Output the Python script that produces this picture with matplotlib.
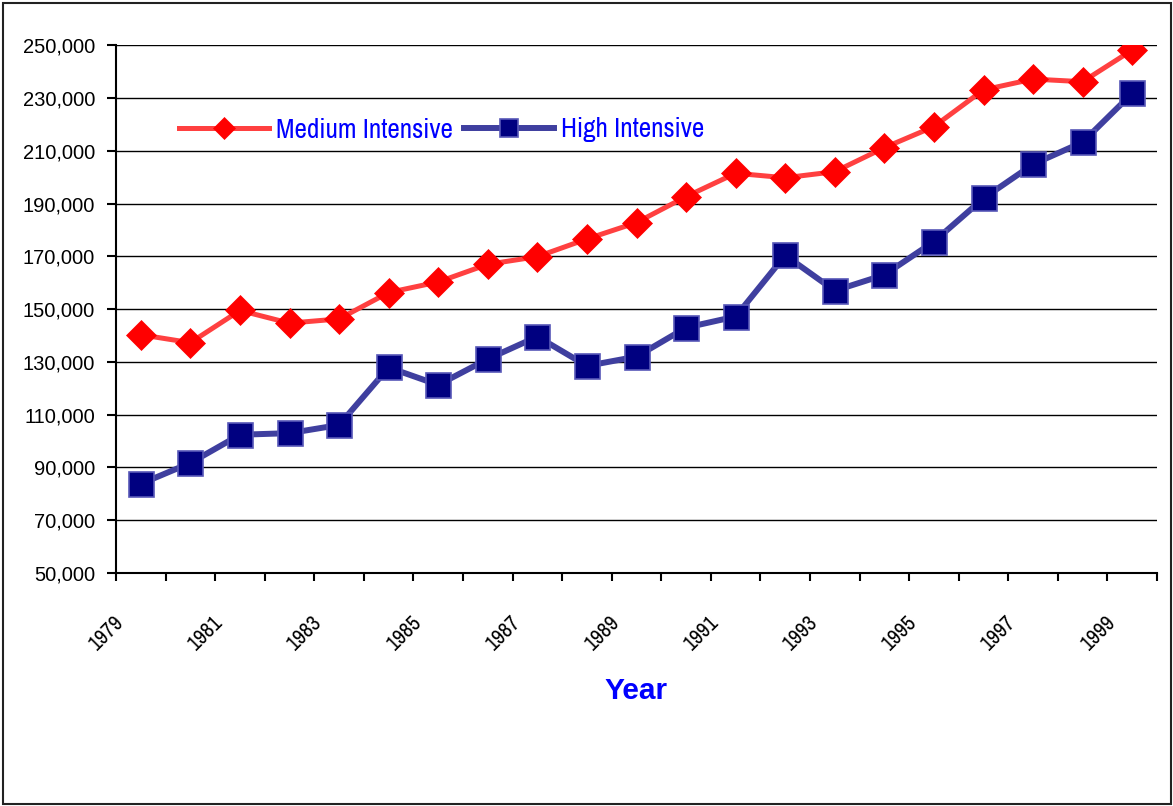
import matplotlib
matplotlib.use("Agg")
import matplotlib.pyplot as plt
import matplotlib.transforms as mtransforms
from matplotlib import font_manager as fm
from matplotlib.patches import Rectangle
import numpy as np

years = [str(y) for y in range(1979, 2000)]
medium_intensive = [140300, 137300, 149500, 144700, 146300, 156300, 160300, 167000, 169900, 176600,
                    182800, 192650, 201500, 199800, 202100, 211200, 219200, 233100, 237200, 236200, 248200]
high_intensive = [83800, 91700, 102400, 103000, 106100, 127900, 121300, 131100, 139600, 128500,
                  132000, 143000, 147200, 170400, 157000, 163000, 175600, 192000, 204900, 213300, 231800]
y_ticks = list(range(50000, 250001, 20000))
y_tick_labels = [f"{v:,}" for v in y_ticks]
series_names = ["Medium Intensive", "High Intensive"]
x_title = "Year"

available = {f.name for f in fm.fontManager.ttflist}
narrow = "Liberation Sans"
for cand in ["Liberation Sans Narrow", "Arial Narrow", "Arimo Narrow", "Archivo Narrow",
             "PT Sans Narrow", "Roboto Condensed", "Pragati Narrow"]:
    if cand in available:
        narrow = cand
        break
regular = "Liberation Sans"

W, H = 1173, 806
L, R, T, B = 116, 1157, 45.3, 573

fig = plt.figure(figsize=(W / 100, H / 100), dpi=100)
ax = fig.add_axes([L / W, 1 - B / H, (R - L) / W, (B - T) / H])

x = np.arange(len(years))
ax.plot(x, medium_intensive, color="#ff4040", lw=3.6, marker="D", ms=14.8,
        mfc="#ff0000", mec="#ff0000", mew=0.5, label=series_names[0], zorder=3)
ax.plot(x, high_intensive, color="#3f3f9f", lw=4.3, marker="s", ms=18,
        mfc="#000080", mec="#5858b8", mew=1.2, label=series_names[1], zorder=4)

ax.set_xlim(-0.5, len(years) - 0.5)
ax.set_ylim(50000, 250000)
ax.set_yticks(y_ticks)
ax.set_yticklabels(y_tick_labels, fontfamily=regular, fontsize=14.5)
ax.grid(axis="y", color="black", lw=1.0)
ax.set_axisbelow(True)

for s in ["top", "right"]:
    ax.spines[s].set_visible(False)
for s in ["left", "bottom"]:
    ax.spines[s].set_linewidth(1.5)
    ax.spines[s].set_color("black")

ax.tick_params(axis="y", direction="out", length=6.5, width=1.5, pad=8.5, colors="black")

ax.set_xticks(x[::2])
ax.set_xticklabels(years[::2], rotation=45, ha="center", va="top",
                   fontfamily=narrow, fontsize=15.5)
ax.tick_params(axis="x", which="major", length=0, pad=28)
ax.set_xticks(np.arange(-0.5, len(years), 1.0), minor=True)
ax.tick_params(axis="x", which="minor", direction="out", length=5.8, width=1.5, colors="black")
offset = mtransforms.ScaledTranslation(-34 / 100, 0, fig.dpi_scale_trans)
for lab in ax.get_xticklabels():
    lab.set_transform(lab.get_transform() + offset)

ax.set_xlabel(x_title, fontfamily=regular, fontweight="bold", fontsize=21.5, color="#0000ff",
              labelpad=0)
ax.xaxis.set_label_coords(0.5, -(691 - B) / (B - T), transform=ax.transAxes)
ax.xaxis.label.set_va("center")

leg = ax.legend(loc="center left", bbox_to_anchor=((179 - L) / (R - L), 1 - (130 - T) / (B - T)),
                ncol=2, frameon=False, markerscale=0.73, handlelength=3.3, handletextpad=0.26,
                columnspacing=0.4, borderaxespad=0, borderpad=0,
                prop={"family": narrow, "size": 19.6})
for t in leg.get_texts():
    t.set_color("#0000ff")

fig.patches.append(Rectangle((3 / W, 2 / H), 1168 / W, 801 / H, transform=fig.transFigure,
                             fill=False, edgecolor="#222222", lw=1.5))

fig.savefig("out.png", dpi=100)
